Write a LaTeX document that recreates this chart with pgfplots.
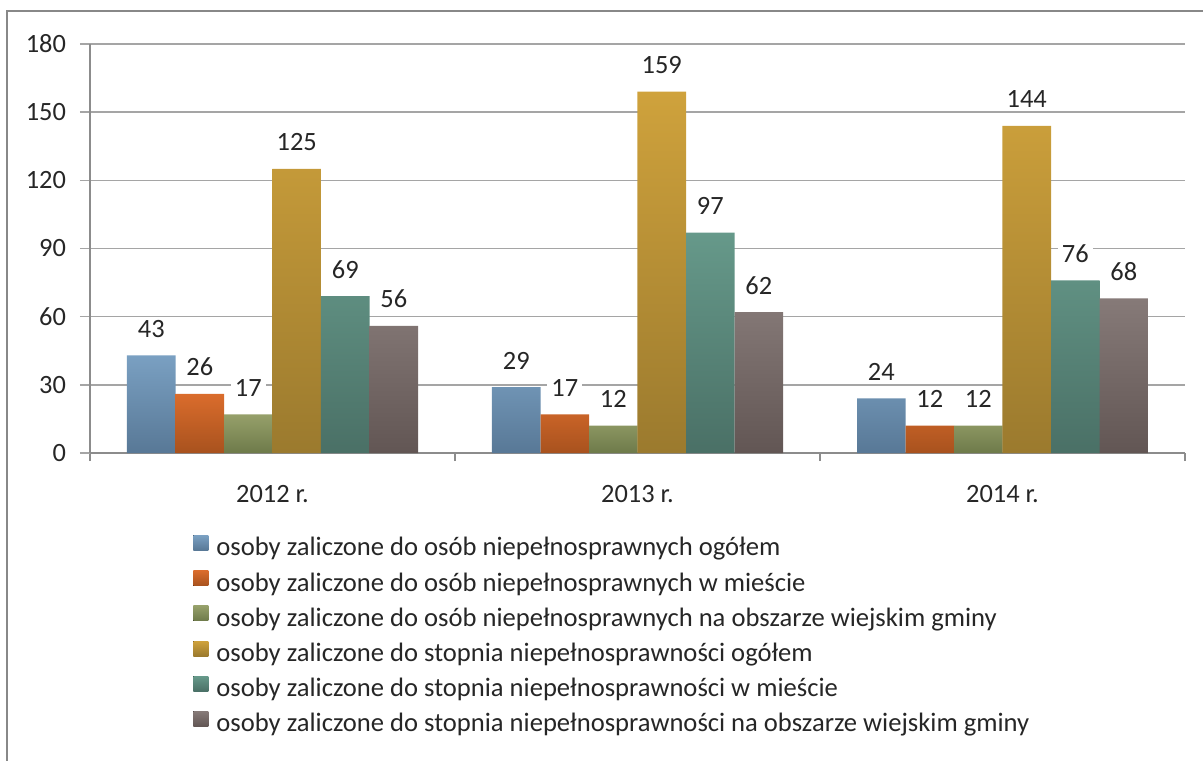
\documentclass[border=0pt]{standalone}
\usepackage{pgfplots}
\pgfplotsset{compat=1.18}
\usepackage{fontspec}
\setmainfont{Carlito}
\definecolor{axisgray}{RGB}{140,140,140}
\definecolor{gridgray}{RGB}{165,165,165}
\definecolor{frame}{RGB}{136,136,136}
\definecolor{blT}{RGB}{122,160,194}\definecolor{blB}{RGB}{88,120,150}
\definecolor{orT}{RGB}{218,108,44}\definecolor{orB}{RGB}{168,82,30}
\definecolor{olT}{RGB}{150,160,106}\definecolor{olB}{RGB}{110,122,74}
\definecolor{goT}{RGB}{207,162,60}\definecolor{goB}{RGB}{155,122,46}
\definecolor{teT}{RGB}{102,153,138}\definecolor{teB}{RGB}{74,112,102}
\definecolor{brT}{RGB}{134,122,120}\definecolor{brB}{RGB}{98,86,84}
\pgfplotstableread{
x a b c d e f
0 43 26 17 125 69 56
1 29 17 12 159 97 62
2 24 12 12 144 76 68
}\datatable
\newcommand{\fs}{\fontsize{13.2}{15.5}\selectfont}
\newcommand{\fl}{\fontsize{13.3}{15.5}\selectfont}
\pgfplotsset{
  lbl/.style={draw=none, fill=none, forget plot, nodes near coords,
    every node near coord/.append style={fill=white, text=black!85, inner xsep=2pt, inner ysep=1pt, anchor=base, yshift=9pt, font=\fs}},
}
\begin{document}
\begin{tikzpicture}
\useasboundingbox (0,0) rectangle (601.5pt,380pt);
\draw[line width=1.2pt, draw=frame] (3.5pt,-20pt) rectangle (650pt,374.5pt);
\begin{axis}[
  at={(45pt,153.5pt)}, anchor=south west,
  scale only axis, width=547.5pt, height=204.5pt,
  xmin=-0.5, xmax=2.5, ymin=0, ymax=180,
  axis x line*=bottom, axis y line*=left,
  axis line style={draw=axisgray, line width=0.6pt},
  xtick={0,1,2}, xticklabels={2012 r., 2013 r., 2014 r.},
  minor xtick={-0.5,0.5,1.5,2.5},
  ytick={0,30,...,180},
  tick align=outside,
  major tick length=5pt, minor tick length=4pt,
  major x tick style={draw=none},
  minor x tick style={draw=axisgray, line width=0.6pt},
  ytick style={draw=gridgray, line width=0.7pt},
  ymajorgrids, major grid style={draw=gridgray, line width=0.7pt},
  /pgf/number format/assume math mode=true,
  tick label style={font=\fs, text=black!85},
  yticklabel style={xshift=-3.5pt},
  xticklabel style={yshift=-7.5pt},
  ybar=0pt, bar width=0.1329,
  legend cell align=left,
  legend style={at={(0.0941,-0.2005)}, anchor=north west, draw=none, fill=none,
    inner sep=0pt, row sep=3.85pt, font=\fl, text=black!85,
    nodes={inner sep=0pt, text height=9pt, text depth=3.5pt, font=\fl}},
  legend image code/.code={\fill[#1] (0pt,0pt) rectangle (7.5pt,7.5pt); \path (11.5pt,0pt);},
]
\addplot[draw=none, top color=blT, bottom color=blB, bar shift=-0.3322] table[x=x,y=a]{\datatable};
\addlegendentry{osoby zaliczone do osób niepełnosprawnych ogółem}
\addplot[draw=none, top color=orT, bottom color=orB, bar shift=-0.1993] table[x=x,y=b]{\datatable};
\addlegendentry{osoby zaliczone do osób niepełnosprawnych w mieście}
\addplot[draw=none, top color=olT, bottom color=olB, bar shift=-0.0664] table[x=x,y=c]{\datatable};
\addlegendentry{osoby zaliczone do osób niepełnosprawnych na obszarze wiejskim gminy}
\addplot[draw=none, top color=goT, bottom color=goB, bar shift=0.0664] table[x=x,y=d]{\datatable};
\addlegendentry{osoby zaliczone do stopnia niepełnosprawności ogółem}
\addplot[draw=none, top color=teT, bottom color=teB, bar shift=0.1993] table[x=x,y=e]{\datatable};
\addlegendentry{osoby zaliczone do stopnia niepełnosprawności w mieście}
\addplot[draw=none, top color=brT, bottom color=brB, bar shift=0.3322] table[x=x,y=f]{\datatable};
\addlegendentry{osoby zaliczone do stopnia niepełnosprawności na obszarze wiejskim gminy}
\addplot[lbl, bar shift=-0.3322] table[x=x,y=a]{\datatable};
\addplot[lbl, bar shift=-0.1993] table[x=x,y=b]{\datatable};
\addplot[lbl, bar shift=-0.0664] table[x=x,y=c]{\datatable};
\addplot[lbl, bar shift=0.0664] table[x=x,y=d]{\datatable};
\addplot[lbl, bar shift=0.1993] table[x=x,y=e]{\datatable};
\addplot[lbl, bar shift=0.3322] table[x=x,y=f]{\datatable};
\end{axis}
\end{tikzpicture}
\end{document}
